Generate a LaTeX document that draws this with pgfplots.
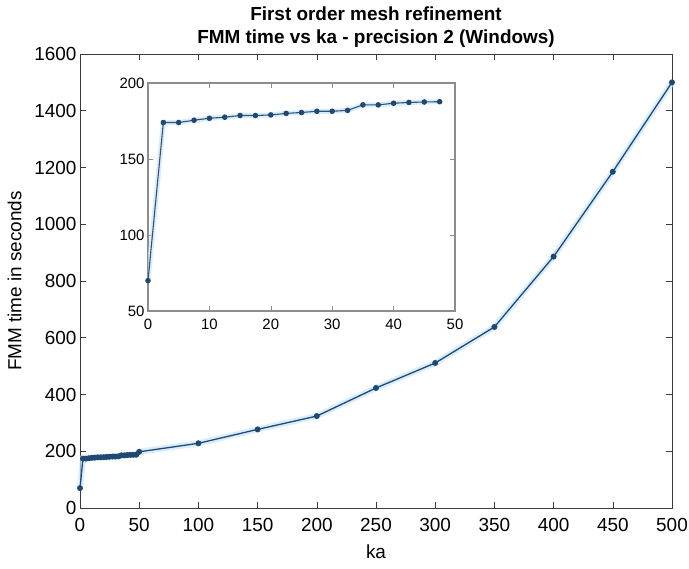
\documentclass[border=0pt]{standalone}
\usepackage{pgfplots}
\pgfplotsset{compat=1.18}
\usepackage{pgfplotstable}
\usepackage{fontspec}
\setmainfont{Liberation Sans}
\definecolor{lineblue}{RGB}{30,72,118}
\definecolor{glow}{RGB}{200,230,250}
\definecolor{axgray}{RGB}{60,60,60}
\definecolor{insetgray}{RGB}{140,140,140}

\pgfplotstableread{
x y
0 70
2.5 174
5 174
7.5 175.5
10 176.8
12.5 177.5
15 178.6
17.5 178.6
20 179
22.5 180
25 180.6
27.5 181.4
30 181.4
32.5 182
35 185.6
37.5 185.6
40 186.7
42.5 187.2
45 187.5
47.5 187.7
50 198
100 228
150 277
200 324
250 423
300 511
350 638
400 886
450 1185
500 1500
}\maindata

\pgfplotstableread{
x y
0 70
2.5 174
5 174
7.5 175.5
10 176.8
12.5 177.5
15 178.6
17.5 178.6
20 179
22.5 180
25 180.6
27.5 181.4
30 181.4
32.5 182
35 185.6
37.5 185.6
40 186.7
42.5 187.2
45 187.5
47.5 187.7
}\insetdata

\begin{document}
\begin{tikzpicture}
\path[use as bounding box] (-80bp,-61bp) rectangle (609bp,508bp);
\begin{axis}[
  at={(0,0)}, anchor=south west,
  scale only axis, width=592bp, height=454bp,
  xmin=0, xmax=500, ymin=0, ymax=1600,
  xtick={0,50,...,500}, ytick={0,200,...,1600},
  tick align=inside, major tick length=6bp,
  axis line style={axgray, line width=0.8pt},
  tick style={axgray, line width=0.6pt},
  /pgf/number format/assume math mode=true,
  /pgf/number format/set thousands separator={},
  ticklabel style={font=\fontsize{19}{22}\selectfont},
  xticklabel style={yshift=-7bp},
  label style={font=\fontsize{19}{22}\selectfont},
  xlabel={ka}, ylabel={FMM time in seconds},
  xlabel style={yshift=-6bp},
  ylabel style={yshift=6bp},
  title style={font=\fontsize{19}{23}\selectfont\bfseries, align=center, yshift=-3bp},
  title={First order mesh refinement\\FMM time vs ka - precision 2 (Windows)},
  clip=false,
]
\addplot[glow, line width=6bp, opacity=0.7] table[x=x,y=y] {\maindata};
\addplot[lineblue, line width=1.3pt, mark=*, mark size=2.3bp, mark options={fill=lineblue, draw=lineblue}] table[x=x,y=y] {\maindata};
\end{axis}
\begin{axis}[
  at={(68bp,197bp)}, anchor=south west,
  scale only axis, width=307bp, height=228bp,
  xmin=0, xmax=50, ymin=50, ymax=200,
  xtick={0,10,...,50}, ytick={50,100,150,200},
  tick align=inside, major tick length=5bp,
  axis background/.style={fill=white},
  axis line style={insetgray, line width=1.6pt},
  tick style={insetgray, line width=0.6pt},
  /pgf/number format/assume math mode=true,
  ticklabel style={font=\fontsize{15}{18}\selectfont},
  xticklabel style={yshift=-5bp},
]
\addplot[glow, line width=5bp, opacity=0.7] table[x=x,y=y] {\insetdata};
\addplot[lineblue!80!gray, line width=1.1pt, mark=*, mark size=2.2bp, mark options={fill=lineblue, draw=lineblue}] table[x=x,y=y] {\insetdata};
\end{axis}
\end{tikzpicture}
\end{document}
